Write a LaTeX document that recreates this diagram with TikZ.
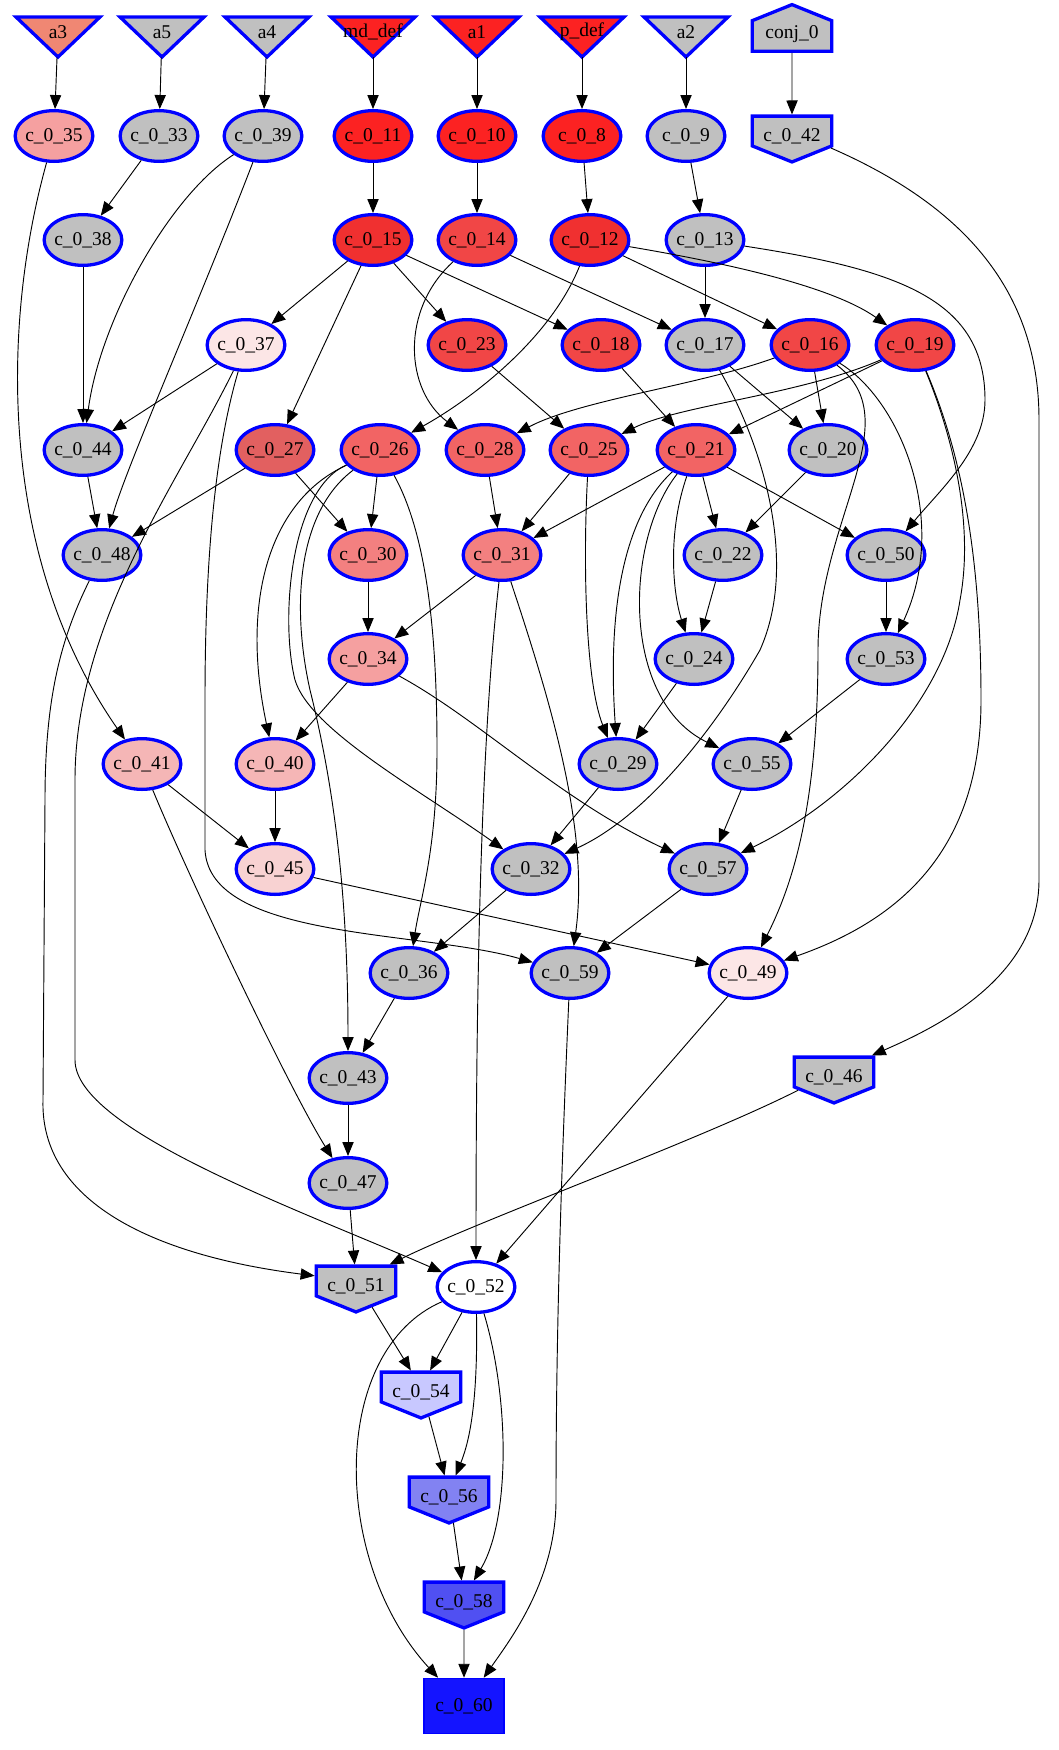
\documentclass[tikz,border=0pt]{standalone}
\usepackage{fontspec}
\setmainfont{Liberation Serif}
\usetikzlibrary{calc, arrows.meta, shapes.geometric, shapes.symbols, backgrounds}
\definecolor{mygray}{RGB}{192, 192, 192}
\definecolor{red0}{RGB}{252, 34, 34}
\definecolor{red1}{RGB}{240, 48, 48}
\definecolor{red2}{RGB}{241, 70, 70}
\definecolor{red3}{RGB}{242, 100, 100}
\definecolor{red4}{RGB}{226, 96, 96}
\definecolor{red5}{RGB}{243, 128, 128}
\definecolor{red6}{RGB}{245, 160, 160}
\definecolor{red7}{RGB}{245, 182, 182}
\definecolor{red8}{RGB}{248, 210, 210}
\definecolor{red9}{RGB}{252, 230, 230}
\definecolor{salmon}{RGB}{240, 135, 115}
\definecolor{blue1}{RGB}{200, 200, 255}
\definecolor{blue2}{RGB}{130, 130, 242}
\definecolor{blue3}{RGB}{80, 80, 242}
\definecolor{blue4}{RGB}{20, 20, 255}
\newcommand{\gvfont}{\fontsize{13}{15}\selectfont}

\begin{document}
\begin{tikzpicture}[
    x = 0.6667pt, y = -0.6667pt,
    nd/.style = {ellipse, draw = blue, line width = 2.2pt, minimum width = 51.8pt, minimum height = 33.8pt, inner xsep = -1pt, inner ysep = 0pt, font = \gvfont},
    tri/.style = {inner sep = 0pt, minimum width = 56pt, minimum height = 33.3pt, font = \gvfont},
    ihs/.style = {signal, signal to = south, signal pointer angle = 136, draw = blue, line width = 2.2pt, inner sep = 1pt, minimum width = 53pt, minimum height = 28pt, text height = 14pt, text depth = 0pt, font = \gvfont},
    hs/.style = {signal, signal to = north, signal pointer angle = 136, draw = blue, line width = 2.2pt, inner sep = 1pt, minimum width = 53pt, minimum height = 28pt, text height = 9pt, text depth = 6pt, font = \gvfont},
    rim/.style = {draw = blue, line width = 2.2pt, line join = miter},
    ar/.style = {-{Triangle[length = 9.3pt, width = 7.5pt]}, line width = 0.62pt},
]
\useasboundingbox (0, 0) rectangle (1058, 1750);

% inputs
\node[tri] (a3) at (58, 32) {a3};
\node[tri] (a5) at (162, 32) {a5};
\node[tri] (a4) at (267, 32) {a4};
\node[tri] (mddef) at (373, 32) {md\_def};
\node[tri] (a1) at (477, 32) {a1};
\node[tri] (pdef) at (582, 32) {p\_def};
\node[tri] (a2) at (686, 32) {a2};
\node[hs, fill = mygray] (conj0) at (792, 36) {conj\_0};

\begin{scope}[on background layer]
\foreach \n/\c in {a3/salmon, a5/mygray, a4/mygray, mddef/red0, a1/red0, pdef/red0, a2/mygray}
  \filldraw[rim, fill = \c] ($(\n)+(-42, -15)$) -- ($(\n)+(42, -15)$) -- ($(\n)+(0, 25)$) -- cycle;
\end{scope}

\node[nd, fill = red6] (c035) at (54, 136) {c\_0\_35};
\node[nd, fill = mygray] (c033) at (159, 136) {c\_0\_33};
\node[nd, fill = mygray] (c039) at (263, 136) {c\_0\_39};
\node[nd, fill = red0] (c011) at (373, 136) {c\_0\_11};
\node[nd, fill = red0] (c010) at (477, 136) {c\_0\_10};
\node[nd, fill = red0] (c08) at (582, 136) {c\_0\_8};
\node[nd, fill = mygray] (c09) at (686, 136) {c\_0\_9};
\node[ihs, fill = mygray] (c042) at (792, 131) {c\_0\_42};

\node[nd, fill = mygray] (c038) at (83, 240) {c\_0\_38};
\node[nd, fill = red1] (c015) at (373, 240) {c\_0\_15};
\node[nd, fill = red2] (c014) at (477, 240) {c\_0\_14};
\node[nd, fill = red1] (c012) at (590, 240) {c\_0\_12};
\node[nd, fill = mygray] (c013) at (705, 240) {c\_0\_13};

\node[nd, fill = red9] (c037) at (246, 345) {c\_0\_37};
\node[nd, fill = red2] (c023) at (467, 345) {c\_0\_23};
\node[nd, fill = red2] (c018) at (601, 345) {c\_0\_18};
\node[nd, fill = mygray] (c017) at (705, 345) {c\_0\_17};
\node[nd, fill = red2] (c016) at (810, 345) {c\_0\_16};
\node[nd, fill = red2] (c019) at (915, 345) {c\_0\_19};

\node[nd, fill = mygray] (c044) at (83, 450) {c\_0\_44};
\node[nd, fill = red4] (c027) at (275, 450) {c\_0\_27};
\node[nd, fill = red3] (c026) at (380, 450) {c\_0\_26};
\node[nd, fill = red3] (c028) at (485, 450) {c\_0\_28};
\node[nd, fill = red3] (c025) at (589, 450) {c\_0\_25};
\node[nd, fill = red3] (c021) at (696, 450) {c\_0\_21};
\node[nd, fill = mygray] (c020) at (828, 450) {c\_0\_20};

\node[nd, fill = mygray] (c048) at (102, 555) {c\_0\_48};
\node[nd, fill = red5] (c030) at (368, 555) {c\_0\_30};
\node[nd, fill = red5] (c031) at (502, 555) {c\_0\_31};
\node[nd, fill = mygray] (c022) at (723, 555) {c\_0\_22};
\node[nd, fill = mygray] (c050) at (886, 555) {c\_0\_50};

\node[nd, fill = red6] (c034) at (368, 659) {c\_0\_34};
\node[nd, fill = mygray] (c024) at (694, 659) {c\_0\_24};
\node[nd, fill = mygray] (c053) at (886, 659) {c\_0\_53};

\node[nd, fill = red7] (c041) at (142, 764) {c\_0\_41};
\node[nd, fill = red7] (c040) at (275, 764) {c\_0\_40};
\node[nd, fill = mygray] (c029) at (618, 764) {c\_0\_29};
\node[nd, fill = mygray] (c055) at (752, 764) {c\_0\_55};

\node[nd, fill = red8] (c045) at (275, 869) {c\_0\_45};
\node[nd, fill = mygray] (c032) at (531, 869) {c\_0\_32};
\node[nd, fill = mygray] (c057) at (708, 869) {c\_0\_57};

\node[nd, fill = mygray] (c036) at (409, 973) {c\_0\_36};
\node[nd, fill = mygray] (c059) at (570, 973) {c\_0\_59};
\node[nd, fill = red9] (c049) at (748, 973) {c\_0\_49};

\node[nd, fill = mygray] (c043) at (348, 1078) {c\_0\_43};
\node[ihs, fill = mygray] (c046) at (834, 1072) {c\_0\_46};
\node[nd, fill = mygray] (c047) at (348, 1183) {c\_0\_47};

\node[ihs, fill = mygray] (c051) at (356, 1281) {c\_0\_51};
\node[nd, fill = white] (c052) at (476, 1287) {c\_0\_52};
\node[ihs, fill = blue1] (c054) at (421, 1387) {c\_0\_54};
\node[ihs, fill = blue2] (c056) at (449, 1492) {c\_0\_56};
\node[ihs, fill = blue3] (c058) at (464, 1597) {c\_0\_58};
\node[draw = blue, fill = blue4, line width = 1pt, minimum width = 53.3pt, minimum height = 36.7pt, font = \gvfont] (c060) at (464, 1706) {c\_0\_60};

% edges
\draw[ar] (a3) -- (c035);
\draw[ar] (a5) -- (c033);
\draw[ar] (a4) -- (c039);
\draw[ar] (mddef) -- (c011);
\draw[ar] (a1) -- (c010);
\draw[ar] (pdef) -- (c08);
\draw[ar] (a2) -- (c09);
\draw[ar] (conj0) -- (c042);

\draw[ar] (c011) -- (c015);
\draw[ar] (c010) -- (c014);
\draw[ar] (c08) -- (c012);
\draw[ar] (c09) -- (c013);
\draw[ar] (c033) -- (c038);
\draw[ar] (c035) .. controls (0, 330) and (0, 560) .. (c041);
\draw[ar] (c039) .. controls (170, 195) and (100, 320) .. (c044);
\draw[ar] (c039) .. controls (200, 300) and (125, 470) .. (c048);
\draw[ar] (c042) .. controls (950, 200) and (1039, 280) .. (1039, 420) -- (1039, 880) .. controls (1039, 980) and (930, 1030) .. (c046);

\draw[ar] (c038) -- (c044);
\draw[ar] (c015) -- (c037);
\draw[ar] (c015) -- (c027);
\draw[ar] (c015) -- (c023);
\draw[ar] (c015) -- (c018);
\draw[ar] (c014) .. controls (400, 310) and (405, 390) .. (c028);
\draw[ar] (c014) -- (c017);
\draw[ar] (c012) .. controls (550, 340) and (470, 400) .. (c026);
\draw[ar] (c012) -- (c016);
\draw[ar] (c012) .. controls (720, 262) and (830, 285) .. (c019);
\draw[ar] (c013) -- (c017);
\draw[ar] (c013) .. controls (900, 270) and (985, 300) .. (985, 400) .. controls (985, 450) and (940, 490) .. (c050);

\draw[ar] (c037) -- (c044);
\draw[ar] (c037) .. controls (180, 480) and (75, 620) .. (75, 780) -- (75, 1060) .. controls (75, 1130) and (300, 1210) .. (c052);
\draw[ar] (c037) .. controls (215, 450) and (205, 560) .. (205, 700) -- (205, 850) .. controls (210, 940) and (420, 930) .. (c059);
\draw[ar] (c023) -- (c025);
\draw[ar] (c018) -- (c021);
\draw[ar] (c017) -- (c020);
\draw[ar] (c017) .. controls (760, 440) and (800, 560) .. (760, 650) .. controls (720, 720) and (650, 815) .. (c032);
\draw[ar] (c016) -- (c020);
\draw[ar] (c016) .. controls (700, 385) and (580, 400) .. (c028);
\draw[ar] (c016) .. controls (910, 420) and (818, 520) .. (818, 650) .. controls (818, 800) and (795, 880) .. (c049);
\draw[ar] (c016) .. controls (900, 400) and (950, 520) .. (c053);
\draw[ar] (c019) -- (c021);
\draw[ar] (c019) .. controls (800, 395) and (680, 405) .. (c025);
\draw[ar] (c019) .. controls (950, 430) and (975, 520) .. (960, 600) .. controls (945, 700) and (850, 800) .. (c057);
\draw[ar] (c019) .. controls (960, 450) and (981, 550) .. (981, 700) .. controls (981, 850) and (900, 920) .. (c049);

\draw[ar] (c027) -- (c048);
\draw[ar] (c027) -- (c030);
\draw[ar] (c044) -- (c048);
\draw[ar] (c026) -- (c030);
\draw[ar] (c026) .. controls (270, 500) and (240, 600) .. (c040);
\draw[ar] (c026) .. controls (290, 490) and (280, 620) .. (295, 680) .. controls (310, 730) and (420, 790) .. (c032);
\draw[ar] (c026) .. controls (300, 510) and (290, 600) .. (310, 690) .. controls (335, 790) and (348, 900) .. (c043);
\draw[ar] (c026) .. controls (430, 540) and (437, 650) .. (437, 750) .. controls (437, 850) and (420, 900) .. (c036);
\draw[ar] (c028) -- (c031);
\draw[ar] (c025) -- (c031);
\draw[ar] (c025) .. controls (583, 560) and (585, 680) .. (c029);
\draw[ar] (c021) -- (c031);
\draw[ar] (c021) .. controls (620, 520) and (608, 620) .. (c029);
\draw[ar] (c021) .. controls (625, 540) and (620, 700) .. (c055);
\draw[ar] (c021) .. controls (668, 530) and (672, 590) .. (c024);
\draw[ar] (c021) -- (c022);
\draw[ar] (c021) -- (c050);
\draw[ar] (c020) -- (c022);

\draw[ar] (c030) -- (c034);
\draw[ar] (c031) -- (c034);
\draw[ar] (c031) .. controls (480, 750) and (476, 1000) .. (c052);
\draw[ar] (c031) .. controls (550, 700) and (590, 830) .. (c059);
\draw[ar] (c022) -- (c024);
\draw[ar] (c050) -- (c053);
\draw[ar] (c048) .. controls (60, 640) and (45, 700) .. (45, 800) -- (43, 1100) .. controls (40, 1200) and (150, 1255) .. (c051);

\draw[ar] (c034) -- (c040);
\draw[ar] (c034) .. controls (480, 720) and (560, 800) .. (c057);
\draw[ar] (c024) -- (c029);
\draw[ar] (c053) -- (c055);
\draw[ar] (c041) -- (c045);
\draw[ar] (c041) .. controls (190, 880) and (290, 1090) .. (c047);
\draw[ar] (c040) -- (c045);
\draw[ar] (c029) -- (c032);
\draw[ar] (c055) -- (c057);
\draw[ar] (c045) -- (c049);
\draw[ar] (c032) -- (c036);
\draw[ar] (c057) -- (c059);
\draw[ar] (c036) -- (c043);
\draw[ar] (c059) .. controls (560, 1200) and (556, 1350) .. (556, 1500) .. controls (556, 1580) and (510, 1640) .. (c060);
\draw[ar] (c049) -- (c052);
\draw[ar] (c043) -- (c047);
\draw[ar] (c046) .. controls (700, 1140) and (480, 1220) .. (c051);
\draw[ar] (c047) -- (c051);

\draw[ar] (c051) -- (c054);
\draw[ar] (c052) -- (c054);
\draw[ar] (c052) .. controls (478, 1400) and (470, 1440) .. (c056);
\draw[ar] (c052) .. controls (510, 1400) and (510, 1520) .. (c058);
\draw[ar] (c052) .. controls (330, 1350) and (330, 1560) .. (c060);
\draw[ar] (c054) -- (c056);
\draw[ar] (c056) -- (c058);
\draw[ar] (c058) -- (c060);

\end{tikzpicture}
\end{document}
